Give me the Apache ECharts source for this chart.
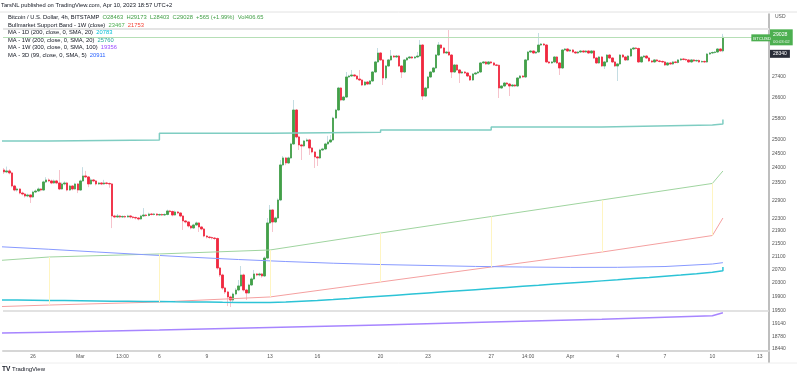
<!DOCTYPE html>
<html>
<head>
<meta charset="utf-8">
<script src="https://cdn.jsdelivr.net/npm/echarts@6/dist/echarts.min.js"></script>
<style>
  html, body { margin: 0; padding: 0; background: #fff; }
  #chart { width: 800px; height: 378px; }
</style>
</head>
<body>
<div id="chart"></div>
<script>
// BTCUSD 4h candles (BITSTAMP), first candle 2023-02-24 04:00 UTC
var candleStart = Date.parse('2023-02-24T04:00Z');
var candleStep = 4 * 3600 * 1000;

var opens = [
  23932, 23863, 23898, 23829, 23380, 23243, 23278, 23142, 23109, 23042,
  23076, 23009, 23176, 23210, 23278, 23243, 23518, 23586, 23552, 23483,
  23552, 23483, 23278, 23449, 23483, 23243, 23380, 23278, 23449, 23243,
  23552, 23724, 23690, 23449, 23586, 23552, 23449, 23483, 23449, 23483,
  23466, 23449, 22381, 22349, 22381, 22349, 22365, 22349, 22381, 22349,
  22333, 22316, 22284, 22381, 22413, 22397, 22446, 22430, 22446, 22413,
  22430, 22413, 22430, 22545, 22528, 22413, 22512, 22479, 22381, 22220,
  22187, 22058, 21994, 22090, 22155, 22026, 21962, 21738, 21706, 21690,
  21675, 21660, 20750, 20539, 20155, 20038, 19892, 19805, 19979, 20095,
  20214, 20539, 20095, 20008, 20243, 20421, 20570, 20539, 20570, 20510,
  21052, 22155, 22578, 22187, 22316, 22909, 24107, 24354, 24177, 24354,
  24855, 26114, 25110, 24819, 24783, 24963, 25000, 24710, 24567, 24389,
  24354, 24638, 24674, 24855, 24927, 25000, 25811, 26114, 26964, 26498,
  26612, 27400, 27440, 27480, 27440, 27320, 27280, 27082, 27200, 27121,
  27241, 27600, 28006, 28374, 28088, 27360, 27843, 28088, 28250, 28209,
  28250, 27843, 27600, 28088, 28168, 28209, 28168, 28209, 28250, 28706,
  26651, 26964, 27400, 27600, 27762, 28291, 28706, 28581, 28374, 28415,
  28291, 27600, 27883, 27681, 27560, 27600, 27560, 27440, 27280, 27520,
  27560, 27600, 27965, 28006, 27925, 28006, 27965, 27883, 27870, 26964,
  27043, 27161, 27121, 27043, 27082, 27043, 27360, 27440, 27400, 28088,
  28415, 28457, 28374, 28415, 28706, 28747, 28706, 28006, 27965, 28006,
  28209, 27965, 27762, 28499, 28540, 28457, 28499, 28415, 28374, 28415,
  28457, 28415, 28457, 28374, 28457, 28168, 27965, 28209, 27843, 28006,
  28291, 28168, 28006, 27843, 27925, 28291, 28209, 28088, 28250, 28540,
  28581, 28560, 28006, 28209, 28250, 28168, 28047, 28006, 28088, 28047,
  28027, 28006, 27883, 27965, 27925, 28006, 27985, 28088, 28127, 28108,
  28088, 28006, 28088, 28047, 28068, 28006, 28027, 28006, 28332, 28374,
  28395, 28415, 28540, 28463
];
var closes = [
  23863, 23898, 23829, 23380, 23243, 23278, 23142, 23109, 23042, 23076,
  23009, 23176, 23210, 23278, 23243, 23518, 23586, 23552, 23483, 23552,
  23483, 23278, 23449, 23483, 23243, 23380, 23278, 23449, 23243, 23552,
  23724, 23690, 23449, 23586, 23552, 23449, 23483, 23449, 23483, 23466,
  23449, 22381, 22349, 22381, 22349, 22365, 22349, 22381, 22349, 22333,
  22316, 22284, 22381, 22413, 22397, 22446, 22430, 22446, 22413, 22430,
  22413, 22430, 22545, 22528, 22413, 22512, 22479, 22381, 22220, 22187,
  22058, 21994, 22090, 22155, 22026, 21962, 21738, 21706, 21690, 21675,
  21660, 20750, 20539, 20155, 20038, 19892, 19805, 19979, 20095, 20214,
  20539, 20095, 20008, 20243, 20421, 20570, 20539, 20570, 20510, 21052,
  22155, 22578, 22187, 22316, 22909, 24107, 24354, 24177, 24354, 24855,
  26114, 25110, 24819, 24783, 24963, 25000, 24710, 24567, 24389, 24354,
  24638, 24674, 24855, 24927, 25000, 25811, 26114, 26964, 26498, 26612,
  27400, 27440, 27480, 27440, 27320, 27280, 27082, 27200, 27121, 27241,
  27600, 28006, 28374, 28088, 27360, 27843, 28088, 28250, 28209, 28250,
  27843, 27600, 28088, 28168, 28209, 28168, 28209, 28250, 28706, 26651,
  26964, 27400, 27600, 27762, 28291, 28706, 28581, 28374, 28415, 28291,
  27600, 27883, 27681, 27560, 27600, 27560, 27440, 27280, 27520, 27560,
  27600, 27965, 28006, 27925, 28006, 27965, 27883, 27870, 26964, 27043,
  27161, 27121, 27043, 27082, 27043, 27360, 27440, 27400, 28088, 28415,
  28457, 28374, 28415, 28706, 28747, 28706, 28006, 27965, 28006, 28209,
  27965, 27762, 28499, 28540, 28457, 28499, 28415, 28374, 28415, 28457,
  28415, 28457, 28374, 28457, 28168, 27965, 28209, 27843, 28006, 28291,
  28168, 28006, 27843, 27925, 28291, 28209, 28088, 28250, 28540, 28581,
  28560, 28006, 28209, 28250, 28168, 28047, 28006, 28088, 28047, 28027,
  28006, 27883, 27965, 27925, 28006, 27985, 28088, 28127, 28108, 28088,
  28006, 28088, 28047, 28068, 28006, 28027, 28006, 28332, 28374, 28395,
  28415, 28540, 28463, 29028
];
var lows = [
  23794, 23820, 23780, 23330, 23200, 23190, 23100, 23060, 22990, 23000,
  22810, 22980, 23140, 23180, 23200, 23220, 23480, 23510, 23440, 23450,
  23440, 23240, 23250, 23400, 23200, 23210, 23230, 23250, 23140, 23210,
  23520, 23650, 23340, 23420, 23510, 23400, 23420, 23410, 23420, 23430,
  23320, 21990, 22310, 22320, 22310, 22320, 22310, 22330, 22300, 22290,
  22270, 22240, 22260, 22350, 22360, 22370, 22400, 22400, 22380, 22390,
  22380, 22390, 22400, 22490, 22370, 22390, 22440, 22340, 21931, 22140,
  22010, 21950, 21960, 22060, 21867, 21920, 21700, 21660, 21650, 21630,
  21610, 20700, 20480, 20100, 19980, 19630, 19605, 19720, 19940, 20060,
  20180, 20050, 19805, 19980, 20210, 20390, 20500, 20500, 20460, 20480,
  21010, 22120, 21867, 22150, 22280, 22870, 24060, 24100, 24140, 24320,
  24820, 25060, 24638, 24282, 24740, 24930, 24460, 24520, 24001, 24072,
  24320, 24600, 24640, 24820, 24890, 24970, 25780, 26080, 26450, 26460,
  26580, 27360, 27400, 27400, 27280, 27240, 27040, 27050, 27080, 27090,
  27200, 27560, 27970, 28050, 27082, 27280, 27800, 28050, 28170, 28170,
  27800, 27360, 27560, 28050, 28130, 28130, 28130, 28170, 28210, 26498,
  26610, 26920, 27360, 27560, 27720, 28250, 28540, 28330, 28330, 28250,
  27360, 27560, 27640, 27161, 27520, 27520, 27400, 27241, 27241, 27480,
  27520, 27560, 27925, 27883, 27883, 27925, 27843, 27830, 26574, 26925,
  27000, 27082, 26651, 27000, 27000, 27000, 27320, 27360, 27360, 28047,
  28374, 28332, 28332, 28374, 28665, 28665, 27965, 27925, 27925, 27965,
  27925, 27480, 27720, 28457, 28415, 28415, 28374, 28332, 28332, 28374,
  28374, 28374, 28332, 28332, 28127, 27925, 27925, 27802, 27721, 27965,
  28127, 27965, 27802, 27241, 27883, 28168, 28047, 28047, 28209, 28499,
  28520, 27965, 27965, 28168, 28127, 28006, 27965, 27965, 28006, 27985,
  27965, 27843, 27843, 27883, 27883, 27945, 27945, 28047, 28068, 28047,
  27965, 27965, 28006, 28006, 27965, 27985, 27965, 27965, 28291, 28332,
  28353, 28374, 28420, 28403
];
var highs = [
  24000, 24050, 23960, 23870, 23420, 23330, 23300, 23190, 23140, 23120,
  23100, 23220, 23260, 23330, 23300, 23560, 23680, 23640, 23600, 23600,
  23590, 23930, 23500, 23540, 23520, 23420, 23410, 23490, 23480, 23600,
  24030, 23900, 23720, 23640, 23620, 23580, 23520, 23510, 23590, 23520,
  23500, 23480, 22420, 22446, 22410, 22400, 22400, 22420, 22410, 22380,
  22360, 22340, 22420, 22640, 22450, 22490, 22480, 22480, 22470, 22460,
  22460, 22470, 22590, 22580, 22560, 22560, 22540, 22500, 22400, 22250,
  22210, 22080, 22130, 22200, 22180, 22060, 21990, 21770, 21730, 21720,
  21700, 21690, 20780, 20580, 20190, 20070, 19930, 20020, 20150, 20391,
  20810, 20580, 20130, 20280, 20470, 20690, 20600, 20610, 20600, 21100,
  22316, 22742, 22610, 22360, 22960, 24282, 24420, 24390, 24400, 24900,
  26498, 26150, 25150, 24860, 25000, 25060, 25040, 24740, 24600, 24420,
  24680, 24720, 24900, 25150, 25180, 25860, 26160, 27010, 27000, 26660,
  27600, 27490, 27681, 27520, 27470, 27681, 27310, 27240, 27240, 27280,
  27640, 28050, 28581, 28410, 28120, 27880, 28130, 28499, 28290, 28290,
  28290, 27880, 28130, 28210, 28250, 28250, 28250, 28415, 28915, 28740,
  27010, 27440, 27640, 27800, 28330, 28830, 28740, 28620, 28460, 29400,
  28330, 27920, 27920, 27720, 27640, 27640, 27600, 27480, 27560, 27600,
  27640, 28006, 28047, 28047, 28047, 28047, 28006, 27925, 27900, 27082,
  27200, 27200, 27160, 27120, 27120, 27400, 27480, 27480, 28130, 28460,
  28499, 28480, 28457, 29212, 28790, 28790, 28747, 28047, 28047, 28250,
  28250, 28006, 28540, 28581, 28581, 28540, 28540, 28457, 28457, 28499,
  28499, 28499, 28499, 28499, 28499, 28209, 28250, 28250, 28047, 28332,
  28332, 28209, 28047, 27965, 28332, 28332, 28250, 28291, 28581, 28622,
  28622, 28600, 28250, 28291, 28291, 28209, 28088, 28127, 28127, 28088,
  28068, 28047, 28006, 28006, 28047, 28047, 28127, 28168, 28168, 28147,
  28127, 28127, 28127, 28108, 28108, 28068, 28068, 28374, 28415, 28436,
  28457, 28581, 28581, 29173
];

// weekly points (Monday opens) + the running value on the last 4h bar
var weekTimes = ['2023-02-20T00:00Z', '2023-02-27T00:00Z', '2023-03-06T00:00Z', '2023-03-13T00:00Z',
  '2023-03-20T00:00Z', '2023-03-27T00:00Z', '2023-04-03T00:00Z', '2023-04-10T00:00Z', '2023-04-10T16:00Z'];
var bandSma = [20849, 21084, 21178, 21301, 21833, 22364, 22909, 23467, 23896];   // Bullmarket band, green
var bandEma = [19560, 19660, 19747, 19893, 20331, 20780, 21236, 21753, 22315];   // Bullmarket band, red
var ma1w200 = [24963, 25000, 25243, 25280, 25367, 25477, 25551, 25589, 25760];
var ma1w300 = [18840, 18900, 18960, 19030, 19100, 19180, 19260, 19356, 19440];

// MA - 1D (200) daily, 2023-02-24 .. 2023-04-10, then the last bar
var dayStart = Date.parse('2023-02-24T00:00Z');
var ma1d200 = [
  19805, 19800, 19793, 19788, 19782, 19776, 19771, 19768, 19762, 19759,
  19753, 19748, 19745, 19739, 19736, 19733, 19736, 19748, 19771, 19794,
  19820, 19849, 19881, 19913, 19945, 19977, 20009, 20041, 20073, 20106,
  20138, 20170, 20203, 20235, 20268, 20300, 20331, 20364, 20397, 20432,
  20467, 20503, 20539, 20580, 20622, 20665
];
var ma1d200Last = 20783;

// MA - 3D (99), one point every 3 days, then the last bar
var ma3dTimes = ['2023-02-24T00:00Z', '2023-02-27T00:00Z', '2023-03-02T00:00Z', '2023-03-05T00:00Z',
  '2023-03-08T00:00Z', '2023-03-11T00:00Z', '2023-03-14T00:00Z', '2023-03-17T00:00Z', '2023-03-20T00:00Z',
  '2023-03-23T00:00Z', '2023-03-26T00:00Z', '2023-03-29T00:00Z', '2023-04-01T00:00Z', '2023-04-04T00:00Z',
  '2023-04-07T00:00Z', '2023-04-10T00:00Z', '2023-04-10T16:00Z'];
var ma3d99 = [21400, 21323, 21239, 21158, 21078, 21007, 20946, 20894, 20854, 20825, 20797, 20779, 20767, 20770, 20794, 20870, 20911];

// axis labels
var priceTicks = [27400, 26600, 25800, 25000, 24500, 24000, 23500, 22900, 22300, 21900, 21500, 21100, 20700, 20300, 19900, 19500, 19140, 18780, 18440];
var xLabelTimes = ['2023-02-26T00:00Z', '2023-03-01T00:00Z', '2023-03-03T16:00Z', '2023-03-06T00:00Z', '2023-03-09T00:00Z',
  '2023-03-13T00:00Z', '2023-03-16T00:00Z', '2023-03-20T00:00Z', '2023-03-23T00:00Z', '2023-03-27T00:00Z',
  '2023-03-29T08:00Z', '2023-04-01T00:00Z', '2023-04-04T00:00Z', '2023-04-07T00:00Z', '2023-04-10T00:00Z', '2023-04-13T00:00Z'];
var xLabelTexts = ['26', 'Mar', '13:00', '6', '9', '13', '16', '20', '23', '27', '14:00', 'Apr', '4', '7', '10', '13'];

var highLine = 29400;
var supportLine = 19500;
var lastClose = 29028;
var markedPrice = 28340;

// ---- build series data ----
var wickData = [], bodyData = [];
for (var i = 0; i < opens.length; i++) {
  var t = candleStart + i * candleStep;
  wickData.push([t, opens[i], closes[i], lows[i], highs[i]]);
  bodyData.push([t, opens[i], closes[i], Math.min(opens[i], closes[i]), Math.max(opens[i], closes[i])]);
}
function pairs(times, vals) {
  return vals.map(function (v, k) { return [Date.parse(times[k]), v]; });
}
var dailyData = ma1d200.map(function (v, k) { return [dayStart + k * 86400000, v]; });
dailyData.push([Date.parse('2023-04-10T16:00Z'), ma1d200Last]);

// band fill drawn as thin vertical strokes at each weekly point
var bandTicks = [];
for (var k = 1; k < 8; k++) {
  var wt = Date.parse(weekTimes[k]);
  bandTicks.push([{ coord: [wt, bandEma[k]] }, { coord: [wt, bandSma[k]] }]);
}

var xLabelMap = {};
xLabelTimes.forEach(function (s, k) { xLabelMap[Date.parse(s)] = xLabelTexts[k]; });

var FONT = 'Liberation Sans, Arial, sans-serif';
var last = opens.length - 1;
var NOLINE = { color: 'rgba(0,0,0,0)', width: 0 };

var chart = echarts.init(document.getElementById('chart'));
chart.setOption({
  animation: false,
  backgroundColor: '#ffffff',
  grid: { left: 3, right: 31, top: 14, bottom: 27, containLabel: false, outerBoundsMode: 'none' },
  xAxis: {
    // timestamps on a plain numeric axis so the label positions can be given exactly
    type: 'value',
    min: Date.parse('2023-02-24T02:26Z'),
    max: Date.parse('2023-04-13T14:00Z'),
    axisLine: { show: true, lineStyle: { color: '#d6d6d6', width: 2 } },
    axisTick: { show: false },
    splitLine: { show: false },
    axisLabel: {
      customValues: xLabelTimes.map(function (s) { return Date.parse(s); }),
      formatter: function (v) { return xLabelMap[v] || ''; },
      fontSize: 5, fontFamily: FONT, color: '#555', margin: 3
    }
  },
  yAxis: {
    type: 'log',
    logBase: 10,
    position: 'right',
    min: 18388,
    max: 30031,
    axisLine: { show: true, lineStyle: { color: '#a8a8a8', width: 1.5 } },
    axisTick: { show: false },
    splitLine: { show: false },
    axisLabel: {
      customValues: priceTicks,
      formatter: function (v) { return String(Math.round(v)); },
      fontSize: 5, fontFamily: FONT, color: '#555', margin: 3
    }
  },
  graphic: [
    { type: 'line', shape: { x1: 0, y1: 12, x2: 797, y2: 12 }, style: { stroke: '#e2e2e2', lineWidth: 1 } },
    { type: 'line', shape: { x1: 769, y1: 351, x2: 769, y2: 363 }, style: { stroke: '#a8a8a8', lineWidth: 1.5 } },
    { type: 'line', shape: { x1: 0, y1: 363, x2: 797, y2: 363 }, style: { stroke: '#eeeeee', lineWidth: 1 } },
    { type: 'text', left: 1, top: 2, style: { text: 'TarsNL published on TradingView.com, Apr 10, 2023 18:57 UTC+2', fontSize: 5.8, fontFamily: FONT, fill: '#131722' } },
    { type: 'text', left: 8, top: 14.5, style: {
      text: 'Bitcoin / U.S. Dollar, 4h, BITSTAMP  {g|O' + opens[last] + '  H' + highs[last] + '  L' + lows[last] + '  C' + closes[last] + '  +565 (+1.99%)  Vol406.65}',
      fontSize: 5.8, fontFamily: FONT, fill: '#131722', rich: { g: { fill: '#43a047', fontSize: 5.8, fontFamily: FONT } } } },
    { type: 'text', left: 8, top: 22, style: {
      text: 'Bullmarket Support Band - 1W (close)  {g|' + bandSma[7] + '}  {r|' + bandEma[7] + '}',
      fontSize: 5.8, fontFamily: FONT, fill: '#131722',
      rich: { g: { fill: '#4caf50', fontSize: 5.8, fontFamily: FONT }, r: { fill: '#f44336', fontSize: 5.8, fontFamily: FONT } } } },
    { type: 'text', left: 8, top: 29.5, style: {
      text: 'MA - 1D (200, close, 0, SMA, 20)  {c|' + ma1d200Last + '}',
      fontSize: 5.8, fontFamily: FONT, fill: '#131722', rich: { c: { fill: '#00bcd4', fontSize: 5.8, fontFamily: FONT } } } },
    { type: 'text', left: 8, top: 37, style: {
      text: 'MA - 1W (200, close, 0, SMA, 20)  {t|' + ma1w200[8] + '}',
      fontSize: 5.8, fontFamily: FONT, fill: '#131722', rich: { t: { fill: '#26a69a', fontSize: 5.8, fontFamily: FONT } } } },
    { type: 'text', left: 8, top: 44.5, style: {
      text: 'MA - 1W (300, close, 0, SMA, 100)  {p|' + ma1w300[7] + '}',
      fontSize: 5.8, fontFamily: FONT, fill: '#131722', rich: { p: { fill: '#9c4dff', fontSize: 5.8, fontFamily: FONT } } } },
    { type: 'text', left: 8, top: 52, style: {
      text: 'MA - 3D (99, close, 0, SMA, 5)  {b|' + ma3d99[ma3d99.length - 1] + '}',
      fontSize: 5.8, fontFamily: FONT, fill: '#131722', rich: { b: { fill: '#2962ff', fontSize: 5.8, fontFamily: FONT } } } },
    { type: 'text', left: 775, top: 14.5, style: { text: 'USD', fontSize: 5, fontFamily: FONT, fill: '#555' } },
    { type: 'text', left: 2, top: 366, style: {
      text: '{l|TV} TradingView', fontSize: 6, fontFamily: FONT, fill: '#131722',
      rich: { l: { fontSize: 6.5, fontWeight: 'bold', fontFamily: FONT, fill: '#131722' } } } }
  ],
  series: [
    {
      name: 'Bullmarket SMA', type: 'line', symbol: 'none', data: pairs(weekTimes, bandSma),
      lineStyle: { color: '#9fd49f', width: 1 }
    },
    {
      name: 'Bullmarket EMA', type: 'line', symbol: 'none', data: pairs(weekTimes, bandEma),
      lineStyle: { color: '#f4a0a0', width: 1 },
      markLine: {
        silent: true, symbol: ['none', 'none'], label: { show: false },
        lineStyle: { color: '#fff5c2', width: 1, type: 'solid' },
        data: bandTicks
      }
    },
    {
      name: 'MA 1W 200', type: 'line', symbol: 'none', step: 'end', data: pairs(weekTimes, ma1w200),
      lineStyle: { color: '#7fcdc2', width: 1.5 }
    },
    {
      name: 'MA 1W 300', type: 'line', symbol: 'none', data: pairs(weekTimes, ma1w300),
      lineStyle: { color: '#a785ff', width: 1.5 },
      markLine: {
        silent: true, symbol: ['none', 'none'], label: { show: false },
        data: [
          { yAxis: highLine, lineStyle: { color: '#e4e4e4', width: 2, type: 'solid' } },
          { yAxis: supportLine, lineStyle: { color: '#d8d8d8', width: 1.5, type: 'solid' } }
        ]
      }
    },
    {
      name: 'MA 3D 99', type: 'line', symbol: 'none', data: pairs(ma3dTimes, ma3d99),
      lineStyle: { color: '#8799ff', width: 1 }
    },
    {
      name: 'MA 1D 200', type: 'line', symbol: 'none', step: 'end', data: dailyData,
      lineStyle: { color: '#2cc3d6', width: 1.5 }
    },
    {
      name: 'wicks', type: 'candlestick', barWidth: 2, data: wickData,
      encode: { x: 0, y: [1, 2, 3, 4] },
      itemStyle: { color: '#c4dde3', color0: '#f6c3cc', borderColor: '#c4dde3', borderColor0: '#f6c3cc', borderWidth: 1 }
    },
    {
      name: 'BTCUSD', type: 'candlestick', barWidth: 2, data: bodyData,
      encode: { x: 0, y: [1, 2, 3, 4] },
      itemStyle: { color: '#43a047', color0: '#f0283f', borderColor: '#43a047', borderColor0: '#f0283f', borderWidth: 0.8 },
      markLine: {
        silent: true, symbol: ['none', 'none'],
        data: [
          { yAxis: lastClose, lineStyle: { color: '#b6dfb6', width: 1, type: 'solid' },
            label: { show: true, position: 'end', distance: 1, formatter: '{p|' + lastClose + '}\n{c|00:03:02}',
              backgroundColor: '#4caf50', padding: [2, 3, 1, 3],
              rich: { p: { color: '#fff', fontSize: 5.2, fontFamily: FONT, lineHeight: 7 },
                      c: { color: '#e6f4e6', fontSize: 4.3, fontFamily: FONT, lineHeight: 6 } } } },
          { yAxis: lastClose, lineStyle: NOLINE,
            label: { show: true, position: 'insideEndTop', distance: -4, formatter: 'BTCUSD',
              backgroundColor: '#4caf50', color: '#fff', fontSize: 4.3, fontFamily: FONT, padding: [2, 2, 1, 2] } },
          { yAxis: markedPrice, lineStyle: NOLINE,
            label: { show: true, position: 'end', distance: 1, formatter: String(markedPrice),
              backgroundColor: '#2a2e39', color: '#fff', fontSize: 5, fontFamily: FONT, padding: [2, 3, 1, 3] } }
        ]
      }
    }
  ]
});
</script>
</body>
</html>
